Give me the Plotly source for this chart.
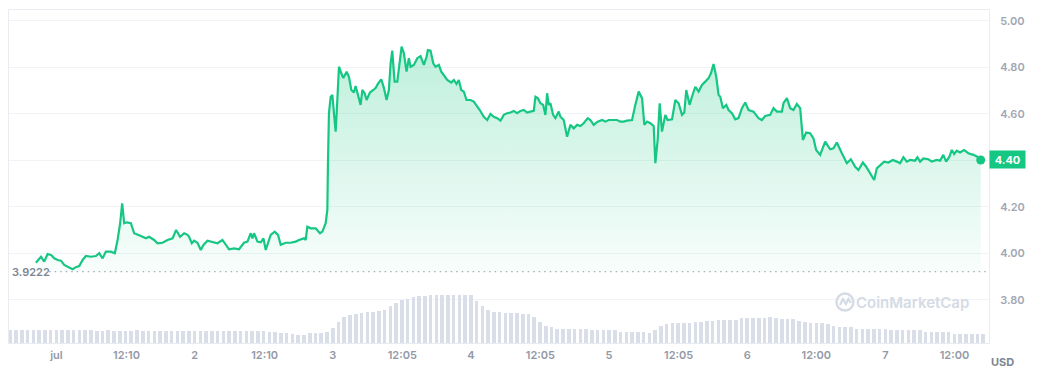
import pandas as pd
import plotly.graph_objects as go

BASE = pd.Timestamp("2023-07-01 00:00")
BASELINE = 3.9222

# price samples: hours after BASE, price in USD
hours = [-3.56, -2.69, -2.12, -1.53, -0.95, -0.38, 0.21, 0.78, 1.35, 2.22, 2.81, 3.38, 3.96, 4.55, 5.12, 5.99, 6.85, 7.43, 8.02, 8.59,
         9.46, 10.15, 10.62, 11.07, 11.42, 11.77, 12.23, 12.93, 13.50, 14.66, 15.53, 16.10, 16.97, 17.56, 18.43, 19.30, 20.17, 20.79, 21.48, 22.18,
         22.77, 23.05, 23.51, 23.91, 24.50, 25.08, 25.54, 26.24, 27.11, 27.97, 28.84, 29.41, 29.99, 30.86, 31.72, 32.59, 33.18, 33.75, 34.05, 34.33,
         34.92, 35.49, 35.96, 36.36, 36.76, 37.22, 37.92, 38.49, 38.96, 39.83, 40.69, 41.56, 42.13, 43.00, 43.30, 43.59, 44.16, 45.03, 45.78, 46.20,
         46.77, 47.06, 47.17, 47.34, 47.64, 47.93, 48.21, 48.50, 48.68, 48.90, 49.08, 49.49, 49.84, 50.41, 50.81, 51.23, 51.68, 51.97, 52.37, 52.84,
         53.14, 53.54, 53.88, 54.46, 55.05, 55.44, 55.84, 56.43, 56.89, 57.35, 57.75, 58.05, 58.34, 58.74, 59.21, 59.49, 59.96, 60.36, 60.82, 61.22,
         61.52, 62.09, 62.68, 63.25, 63.83, 64.30, 64.52, 64.99, 65.46, 65.86, 66.43, 66.85, 67.42, 67.89, 68.58, 69.03, 69.50, 69.90, 70.32, 70.77,
         71.24, 71.93, 72.50, 72.97, 73.54, 74.24, 74.83, 75.40, 75.97, 76.56, 77.14, 77.71, 78.30, 78.87, 79.45, 80.03, 80.61, 81.18, 81.77, 82.34,
         82.92, 83.21, 83.61, 84.08, 84.55, 84.95, 85.24, 85.52, 85.81, 86.28, 86.68, 87.25, 87.55, 88.12, 88.71, 89.28, 89.86, 90.45, 91.02, 91.59,
         92.29, 92.75, 93.33, 94.02, 94.79, 95.36, 95.93, 96.80, 97.39, 97.96, 98.53, 99.12, 99.99, 100.56, 101.14, 101.73, 102.13, 102.60, 103.17, 103.75,
         104.04, 104.44, 104.79, 105.19, 105.77, 106.17, 106.94, 107.51, 108.08, 108.67, 109.07, 109.41, 109.99, 110.40, 110.98, 111.55, 112.14, 112.71, 113.28, 113.70,
         114.15, 114.62, 115.02, 115.31, 115.78, 116.36, 116.76, 117.35, 117.92, 118.49, 119.08, 119.65, 120.23, 121.09, 121.96, 122.55, 123.12, 123.99, 124.56, 125.15,
         126.02, 126.30, 126.89, 127.46, 128.03, 128.62, 129.20, 129.67, 130.24, 130.93, 131.51, 131.97, 132.67, 133.54, 134.41, 134.98, 135.57, 136.44, 137.31, 138.00,
         138.75, 139.32, 140.09, 140.66, 141.35, 142.05, 142.51, 143.08, 143.78, 144.52, 145.29, 145.98, 146.55, 147.13, 147.72, 148.29, 149.16, 149.56, 150.03, 150.60,
         151.47, 152.06, 152.93, 153.51, 154.06, 154.55, 155.12, 155.54, 155.94, 156.39, 156.97, 157.66, 158.41, 159.28, 159.98, 160.56]

prices = [3.960, 3.986, 3.965, 3.998, 3.994, 3.979, 3.972, 3.969, 3.951, 3.939, 3.932, 3.941, 3.946, 3.972, 3.989, 3.986, 3.989, 4.001, 3.979, 4.008,
          4.008, 4.001, 4.058, 4.130, 4.216, 4.130, 4.134, 4.130, 4.087, 4.075, 4.065, 4.072, 4.058, 4.044, 4.046, 4.058, 4.065, 4.101, 4.072, 4.087,
          4.080, 4.072, 4.044, 4.055, 4.046, 4.015, 4.037, 4.055, 4.048, 4.044, 4.058, 4.040, 4.018, 4.022, 4.018, 4.046, 4.051, 4.087, 4.065, 4.087,
          4.051, 4.048, 4.065, 4.015, 4.044, 4.080, 4.094, 4.080, 4.037, 4.046, 4.046, 4.051, 4.058, 4.065, 4.058, 4.115, 4.108, 4.108, 4.087, 4.094,
          4.130, 4.187, 4.389, 4.603, 4.674, 4.682, 4.603, 4.524, 4.603, 4.746, 4.803, 4.775, 4.754, 4.782, 4.760, 4.703, 4.692, 4.720, 4.682, 4.639,
          4.703, 4.689, 4.660, 4.692, 4.703, 4.711, 4.729, 4.749, 4.711, 4.660, 4.703, 4.818, 4.872, 4.739, 4.739, 4.803, 4.889, 4.861, 4.782, 4.840,
          4.803, 4.811, 4.840, 4.849, 4.811, 4.846, 4.875, 4.872, 4.818, 4.803, 4.811, 4.782, 4.760, 4.746, 4.735, 4.746, 4.729, 4.746, 4.703, 4.696,
          4.660, 4.660, 4.653, 4.639, 4.617, 4.588, 4.574, 4.600, 4.588, 4.582, 4.571, 4.596, 4.603, 4.606, 4.613, 4.603, 4.613, 4.617, 4.606, 4.610,
          4.613, 4.674, 4.668, 4.646, 4.639, 4.596, 4.689, 4.639, 4.646, 4.596, 4.582, 4.610, 4.588, 4.574, 4.502, 4.553, 4.538, 4.553, 4.548, 4.560,
          4.582, 4.574, 4.553, 4.567, 4.574, 4.567, 4.574, 4.574, 4.574, 4.567, 4.567, 4.571, 4.574, 4.639, 4.696, 4.668, 4.553, 4.567, 4.560, 4.548,
          4.388, 4.488, 4.646, 4.524, 4.596, 4.574, 4.577, 4.660, 4.646, 4.596, 4.606, 4.703, 4.639, 4.674, 4.717, 4.696, 4.725, 4.739, 4.754, 4.775,
          4.815, 4.760, 4.682, 4.674, 4.625, 4.639, 4.617, 4.603, 4.577, 4.582, 4.625, 4.649, 4.617, 4.610, 4.582, 4.574, 4.591, 4.596, 4.625, 4.610,
          4.610, 4.646, 4.668, 4.625, 4.617, 4.643, 4.625, 4.488, 4.520, 4.517, 4.495, 4.445, 4.424, 4.481, 4.448, 4.452, 4.477, 4.431, 4.388, 4.405,
          4.373, 4.359, 4.391, 4.373, 4.345, 4.316, 4.366, 4.381, 4.395, 4.391, 4.402, 4.395, 4.388, 4.414, 4.395, 4.402, 4.399, 4.414, 4.395, 4.409,
          4.405, 4.395, 4.402, 4.399, 4.424, 4.395, 4.416, 4.445, 4.428, 4.442, 4.434, 4.445, 4.431, 4.424, 4.416, 4.402]

# hourly volume (arbitrary units, millions), first bar at VOL_START hours
VOL_START = -8
volume = [3.9, 3.9, 3.95, 3.9, 3.85, 3.9, 3.9, 3.95, 3.9, 3.9, 3.85, 3.9, 3.9, 3.85, 3.8,
          3.75, 3.75, 3.8, 3.75, 3.7, 3.75, 3.75, 3.8, 3.75, 3.7, 3.75, 3.7, 3.7, 3.65,
          3.6, 3.6, 3.65, 3.6, 3.6, 3.55, 3.6, 3.6, 3.65, 3.6, 3.6, 3.55, 3.6, 3.6, 3.55, 3.5, 3.4, 3.3, 3.1, 3.0,
          2.7, 2.5, 2.5, 3.0, 3.0, 3.0, 3.3,
          4.5, 6.3, 7.8, 8.4, 8.85, 9.15, 9.3, 9.45, 9.6, 10.05, 11.1, 12.0, 12.9, 13.35, 13.8, 14.1, 14.25,
          14.4, 14.4, 14.4, 14.45, 14.4, 14.45, 14.55, 14.55, 12.6, 11.1, 9.9, 9.45, 9.2, 9.15, 9.1, 8.9, 8.85, 8.8,
          7.8, 6.3, 5.1, 4.8, 4.3, 4.2, 4.2, 4.15, 4.2, 4.1, 3.95, 3.9, 3.9, 3.85, 3.8, 3.4, 3.3, 3.3, 3.25, 3.3, 3.15,
          3.9, 5.1, 5.7, 5.9, 6.0, 6.0, 6.1, 6.4, 6.45, 6.5, 6.5, 6.8, 6.9, 6.9, 7.0, 7.4, 7.5, 7.5, 7.55, 7.65, 7.7, 7.6,
          7.3, 7.2, 7.1, 6.6, 6.2, 6.15, 6.1, 5.9, 5.8, 5.0, 4.8, 4.75, 4.7, 4.3, 4.2, 4.2, 4.15, 4.2, 4.1,
          3.95, 3.9, 3.9, 3.9, 3.85, 3.85, 3.4, 3.3, 3.3, 3.25, 3.3, 2.8, 2.7, 2.7, 2.65, 2.7, 2.6]

tick_hours = [0, 12.17, 24, 36.17, 48, 60.08, 72, 84.08, 96, 108.08, 120, 132, 144, 156]
tick_text = ["jul", "12:10", "2", "12:10", "3", "12:05", "4", "12:05", "5", "12:05", "6", "12:00", "7", "12:00"]
price_ticks = [3.8, 4.0, 4.2, 4.4, 4.6, 4.8, 5.0]

GREEN = "#16c784"
GRID = "#f1f3f6"
BORDER = "#e9ecf1"
LABEL = "#9299a7"
FONT = "Inter"

n = min(len(hours), len(prices))
hours, prices = hours[:n], prices[:n]
last_price = prices[-1]
times = [BASE + pd.Timedelta(hours=h) for h in hours]
vol_times = [BASE + pd.Timedelta(hours=VOL_START + i) for i in range(len(volume))]

fig = go.Figure()

fig.add_trace(go.Bar(x=vol_times, y=volume, yaxis="y2", marker=dict(color="#d9dee8", line=dict(width=0)),
                     width=0.62 * 3600 * 1000, hoverinfo="skip", showlegend=False))

fig.add_trace(go.Scatter(x=times, y=[BASELINE] * n, mode="lines", line=dict(width=0),
                         hoverinfo="skip", showlegend=False))
fig.add_trace(go.Scatter(x=times, y=prices, mode="lines", line=dict(color=GREEN, width=2.2),
                         fill="tonexty",
                         fillgradient=dict(type="vertical", start=BASELINE, stop=max(prices),
                                           colorscale=[[0, "rgba(22,199,132,0.03)"], [1, "rgba(22,199,132,0.28)"]]),
                         showlegend=False))
fig.add_trace(go.Scatter(x=[times[-1]], y=[last_price], mode="markers",
                         marker=dict(color=GREEN, size=9), showlegend=False))

x_left = BASE + pd.Timedelta(hours=-8.24)
x_right = BASE + pd.Timedelta(hours=162.0)

# the page body adds an 8px margin, so the figure is sized to the remaining window
fig.update_layout(
    width=1031, height=368,
    margin=dict(l=1, r=50, t=2, b=33),
    paper_bgcolor="white", plot_bgcolor="white",
    font=dict(family=FONT, color=LABEL, size=11),
    bargap=0,
    xaxis=dict(type="date", range=[x_left, x_right], showgrid=False, zeroline=False,
               showline=True, linecolor=BORDER, linewidth=1, mirror=True,
               tickvals=[BASE + pd.Timedelta(hours=h) for h in tick_hours], ticktext=tick_text,
               ticks="", ticklabelstandoff=2, tickfont=dict(family=FONT, size=11, color=LABEL, weight=600)),
    yaxis=dict(side="right", range=[3.615, 5.047], tickvals=price_ticks,
               ticktext=["" if abs(v - round(last_price, 1)) < 1e-9 else f"{v:.2f}" for v in price_ticks],
               showgrid=True, gridcolor=GRID, gridwidth=1,
               zeroline=False, showline=True, linecolor=BORDER, linewidth=1, mirror=True,
               ticks="", ticklabelstandoff=8, tickfont=dict(family=FONT, size=11, color="#a1a7b4", weight=600)),
    yaxis2=dict(overlaying="y", range=[0, 100], visible=False),
)

fig.add_shape(type="line", xref="paper", yref="y", x0=0.041, x1=0.998, y0=BASELINE, y1=BASELINE,
              line=dict(color="#a6acb8", width=1.3, dash="1.5px,4px"))

fig.add_annotation(xref="paper", yref="y", x=0.001, y=BASELINE, xanchor="left", yanchor="middle",
                   text=f"{BASELINE:.4f}", showarrow=False,
                   font=dict(family=FONT, size=11, color="#7e8695", weight=600))

fig.add_annotation(xref="paper", yref="y", x=1.0, y=last_price, xanchor="left", yanchor="middle",
                   text=f"{last_price:.2f}", showarrow=False, bgcolor=GREEN, width=33, height=15,
                   borderpad=1, font=dict(family=FONT, size=11, color="white", weight=700))

fig.add_annotation(xref="paper", yref="paper", x=1.0135, y=-0.058, xanchor="center", yanchor="middle",
                   text="USD", showarrow=False, font=dict(family=FONT, size=11, color="#7e8695", weight=700))

# watermark
fig.add_shape(type="circle", xref="paper", yref="paper", xsizemode="pixel", ysizemode="pixel",
              xanchor=0.853, yanchor=0.123, x0=-8.5, x1=8.5, y0=-8.5, y1=8.5,
              line=dict(color="#d5dbe5", width=2.4))
fig.add_shape(type="path", xref="paper", yref="paper", xsizemode="pixel", ysizemode="pixel",
              xanchor=0.853, yanchor=0.123, path="M -5 -3 L -2 3 L 1 -2 L 3.5 3 L 6 -1",
              line=dict(color="#d5dbe5", width=2.2))
fig.add_annotation(xref="paper", yref="paper", x=0.8625, y=0.122, xanchor="left", yanchor="middle",
                   text="CoinMarketCap", showarrow=False,
                   font=dict(family=FONT, size=15, color="#d5dbe5", weight=600))

fig.write_html("out.html")
